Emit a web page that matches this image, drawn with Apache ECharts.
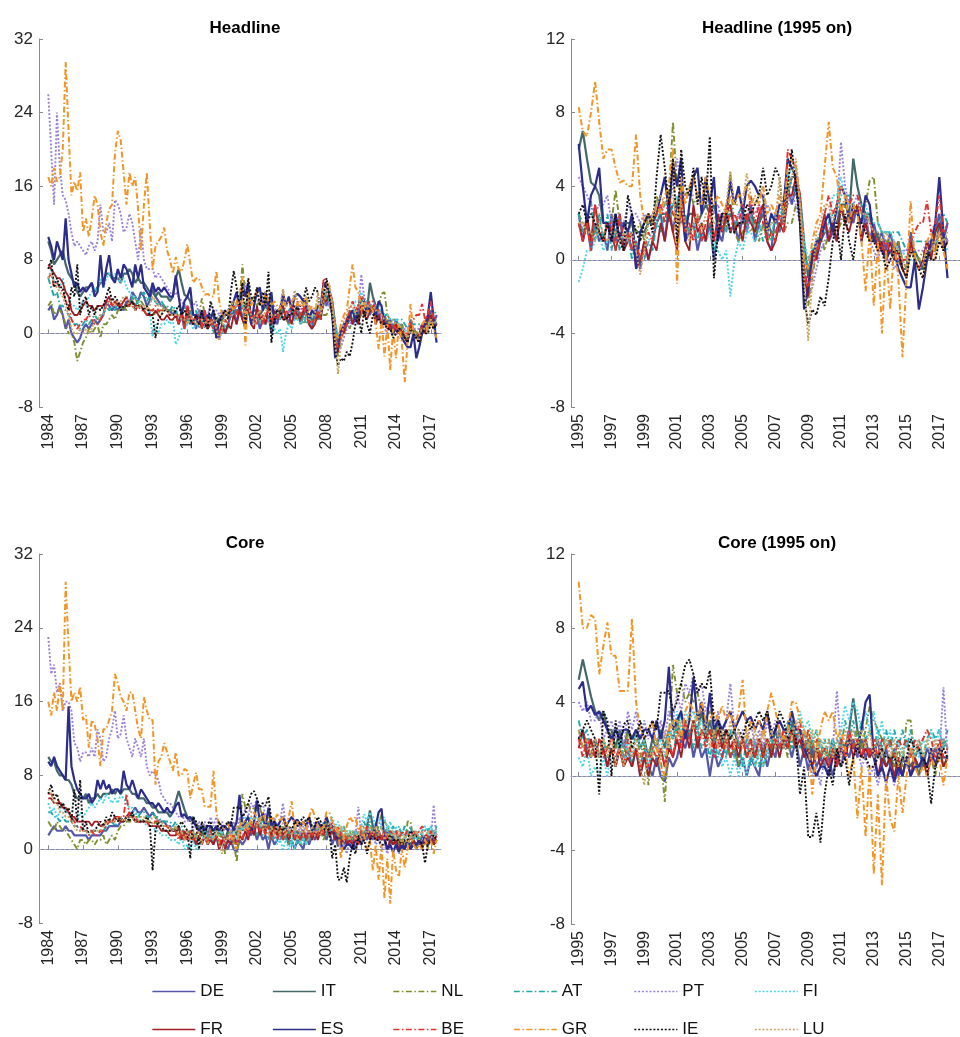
<!DOCTYPE html>
<html><head><meta charset="utf-8">
<script src="https://cdn.jsdelivr.net/npm/echarts@6/dist/echarts.min.js"></script>
<style>html,body{margin:0;padding:0;background:#fff}#c{width:960px;height:1037px}</style>
</head><body><div id="c"></div>
<script>
// ---- data: quarterly, 1984Q1 .. 2017Q3 (x = 1984.00, 1984.25, ...) ----
const countries = ['DE','IT','NL','AT','PT','FI','FR','ES','BE','GR','IE','LU'];
const legendRow1 = ['DE','IT','NL','AT','PT','FI'];
const legendRow2 = ['FR','ES','BE','GR','IE','LU'];
const firstYear = 1984;
const leftTicks = [1984,1987,1990,1993,1996,1999,2002,2005,2008,2011,2014,2017];
const rightTicks = [1995,1997,1999,2001,2003,2005,2007,2009,2011,2013,2015,2017];
const titles = ['Headline','Headline (1995 on)','Core','Core (1995 on)'];

const headlineDE = [2.5,3,1.5,2, 3,2,0.5,1.5, 0,-0.5,-1,-0.5, 0.5,1,0.5,1, 1.5,1,1.5,2, 3.5,3,2.5,3, 2.5,3,2.5,3.5, 3,4.5,4,3.5, 4.5,4,3,3.5, 5,4,3.5,3, 3,2.5,2.5,2,
 2.5,1,2,0.5, 2,1,1.5,0.5, 2.5,1,2.5,0.5, 1.5,0.5,1,-0.5, 1,0,1,2, 2.5,1,3,1.5, 3,4,1,1.5, 2,0.5,1.5,1, 2,0,1.5,1, 2.5,1.5,2,1, 2.5,1.5,3,1,
 2,3,1,0.5, 2.5,1.5,3,4, 3,4,3,-1, -1.5,0.5,0,1, 2,1,1.5,1, 3,2,2.5,2, 3,1,2.5,1, 2,1,1.5,0.5, 1.5,0.5,1,-0.5, -0.5,1.5,0,-0.5, -0.5,1,0.5,1.5, 2.5,1,2];
const headlineIT = [10,9,7.5,8, 8.5,9,7.5,6.5, 6,5.5,4.5,4, 4.5,5,5,5.5, 4.5,5,5.5,5.5, 6.5,6.5,6,6, 6,5.5,6.5,6.5, 7,6.5,5.5,6, 5.5,5.5,5,4.5, 4.5,4,4.5,4, 4,4,3.5,4,
 6,7,5.5,4.2, 4,3.5,2,2, 1.5,1.5,2,2, 2,2,1.5,1.5, 1.5,2,2,2, 2.5,2.5,2.5,3, 3,2.5,2,2.5, 2.5,2,2.5,3, 2.5,3,2,2.5, 2,2.5,2,2, 2,2,2.5,2,
 2,2.5,2,1.5, 1.5,2,2,3.5, 4.5,4.5,3.5,1, -1,0.5,0.5,1, 1.5,1.5,2,2, 3,3,2.5,5.5, 4,3,2.5,2.5, 1,1.5,0.5,0.5, 0.5,0,0,-0.5, -0.5,0.5,0.5,0, -0.5,0,0.5,0.5, 2,1.5,1];
const headlineNL = [3,3.5,2,2.5, 2.5,2,1,0, 0,-1,-3,-2, -1,-0.5,0.5,0, 0.5,1,-0.5,1, 1,1.5,2,1.5, 2.5,2.5,3,2.5, 3.5,3.5,4,3, 3.5,3,3,2.5, 2.5,2,2.5,2, 3,2.5,2.5,2.5,
 2.5,2,1.5,1, 1.5,2.5,2,2, 2,3.8,2,2, 1.5,2,1.5,2, 1,2.5,2,3.5, 2.5,3,3.5,7.5, 4,4,3.5,4, 3,3.5,3.5,3.5, 2.5,2.5,2,2.5, 1.5,4.8,1.5,1, 1.5,2,1.5,2,
 1,2,1,1.5, 1.5,2,1.5,2, 2,3,3,0, -2.5,-1,0.5,1.5, 0.5,1.5,2,1.5, 2,3,2.5,2.5, 3,2.5,3,4.3, 4.5,2,1.5,1, 1,0.5,1,0, -0.5,1,0.5,0, 0.5,0,0.5,0.5, 1.5,1,1];
const headlineAT = [6,5,4,4.5, 3,3,2.5,2, 1.5,1,1,0.5, 1,1.5,1,1.5, 2,1.5,2,2, 3,2.5,3,2.5, 3.5,3,3.5,3, 3,4,3,3.5, 4,4.5,3.5,4, 3.5,3.5,3,3.5, 3,3,2.5,3,
 2.5,1.5,2,3.2, 1,2.5,1,2.5, 0.5,2,0.5,1.5, 1.5,0,1,0, 0,1,0.5,2, 1.5,2.5,2,3, 3.5,2,2.5,1.5, 2,1,2,1, 2,0.5,1.5,2.5, 1.5,3,1.5,2.5, 3,1.5,2.5,1.5,
 2,1,1.5,1, 2.5,1.5,3,4.5, 4,3.5,3,0.5, -0.5,0.5,1,1.5, 2,2,2.5,2.5, 3.5,3.5,3.5,3, 2.5,2,2.5,2.5, 2,2,1.5,1.5, 1.5,1.5,1.5,1, 0.5,1,1,1, 1,1,1,1.5, 2,2.5,2];
const headlinePT = [26,20,14,24, 18,15,14.5,13, 11,9.5,10,9.5, 9,8.5,9.5,10, 9,10,14,11, 11,12,10,14.5, 14,13,11,11.5, 13,12,10,8, 11.5,8,7,7, 7,6,6.5,6, 5.5,5,4.5,4,
 4.5,4,3.5,3, 2.5,3,3,3.5, 2,2.5,2,2, 3,2.5,2.5,2, 2.5,2,2.5,3, 2.5,3,3,4, 5.5,4,3.5,3.5, 3.5,3.5,3.5,3, 3.5,2.5,3,2, 2.5,3,2,2.5, 2,1.5,2.5,2.5,
 3,2.5,3,2.5, 2.5,3,2,3, 3.5,3,2,-0.5, -2,-1.5,-0.5,0.5, 1,1.5,2,2.5, 6.4,4,3,3, 3.5,2.5,2.5,1, 0.5,0,1,0, 0,-0.5,0,0.5, 0.5,1,0.5,0.5, 0.5,1,1,1, 1.5,1.5,1];
const headlineFI = [6,7,5.5,5, 5,6,4.5,4, 3,3,2.5,3, 3.5,3,4,4.5, 5,4.5,6,5, 6,6.5,6,6.5, 6,5.5,6,5, 4.5,4,4,3.5, 3,2.5,2,2.5, -0.4,1,0,1, 1,1.5,1,1.5,
 -1.2,-0.5,0.5,0.5, 1,1.5,0.5,1, 1,1.5,1,1.5, 1.5,1.5,1,0.5, 0.5,1,1.5,2, 3,3,3,3, 3.5,3,2,2, 2,1.5,1.5,1, 1.5,1,0.5,0, 0.5,-2,0,1, 0.5,1.5,1.5,1,
 1.5,2,1.5,2, 2,2.5,3,4.5, 5,5,3,1, 0,0.5,1,1.5, 1.5,2,3.5,3.5, 4.5,3.5,3,3, 2.5,3,3,2, 2,2,1.5,1.5, 1.5,1,0.5,0.5, 0,0,0,-0.5, 0,0.5,0.5,1, 1,1,0.5];
const headlineFR = [7.5,7,6.5,6, 6,5.5,4.5,4, 2.5,2,2,2.5, 3,3.5,3,3, 2.5,3,3,3, 3.5,4,3,3.5, 3,3,3.5,4, 3,3.5,3,3, 3,2.5,2,2, 2,2.5,2,1.5, 1.5,2,1.5,1.5,
 2,1,2.5,1, 3,1.5,1,2, 1.5,0.5,1.5,0.5, 1,1.5,-0.5,0, 1,0,1,0.5, 2,1,2.5,1.5, 0.5,3,1,0.5, 3,1.5,2,1, 3,1,2.5,1.5, 2.5,3,1.5,2, 1,2.5,2,1.5,
 2.5,3,1,0.5, 1,2,1.5,3.5, 3.5,4.5,2,-1, -2,0.5,0,1.5, 2.5,1,2,1, 3,2,1.5,2.5, 3,1,2,1, 1.5,0.5,1,0, 1,0,0.5,-0.5, -1,1,0,-0.5, 0,1,0,1.5, 2,0.5,1];
const headlineES = [10.5,9.5,8,10, 9,8,12.5,8, 6.5,5,5.5,4.5, 5,4.5,5,5.5, 4,4.5,8.5,5, 7,8.5,6,5.5, 7,6,7.5,7, 6,5,7.5,6, 7.5,5,4.5,4, 5.5,4.5,5,4.5, 5,4.5,4,4,
 6.3,4,2,3.5, 4,5,2,2, 1,2.5,1,2, 1.5,2.5,-0.5,1.5, 2,2.5,2,2.5, 3.5,4.5,2.5,5.3, 4,5.5,1,3, 4.5,5,2.5,4.5, 3,4.5,1,2.5, 2.5,4.3,3,4, 2.5,4,4.3,4,
 3.5,3.5,1.5,2.5, 2,3,3,5.5, 5,4.5,2,-2.7, -1.5,0,1,1, 2,2.5,1.5,3, 4,3.5,2,3, 2.5,2,3.5,3, 1,1,0.5,0, 0.5,0.5,-0.5,-1, -1.5,-1.5,0,-2.7, -1.5,0,1,2, 4.5,1.5,-1];
const headlineBE = [6,6.5,5,5.5, 5,4.5,3.5,3, 1.5,1,0.5,1, 1.5,1.5,2,1.5, 1,1,1.5,2, 3,3.5,3,3.5, 3.5,3,3.5,3, 3,3,2.5,3, 2.5,2.5,2,2.5, 2.5,3,2.5,2.5, 2.5,2.5,2,2,
 2,1,2,0.5, 3,1.5,1,2, 2,0.5,2.5,1, 1.5,0.5,1,0, 0.5,1.5,1,2.5, 3,2,3.5,2.5, 2,3.5,1.5,2, 1,2.5,1,2, 2.5,1,2,1.5, 3,1.5,2.5,2, 3,2,3.5,2,
 3,2,1,1.5, 1,2.5,1.5,6, 5.5,5,3.5,-0.5, -1.5,-0.5,0.5,1, 2.5,3.5,2.5,3, 4,3.5,3,3.5, 3.5,2.5,2.5,2, 1.5,1,0.5,1, 0.5,0.5,0,0, 0,1,1.5,2, 2,3.2,1.5,2, 3.5,1.5,2];
const headlineGR = [17,16,18,16.5, 17,20,29.5,22, 15,16.5,15.5,17.5, 11,12.5,10.5,12.5, 15,14,11,9.5, 12,13.5,14,19.5, 22,21,17.5,14, 17.5,16,17,13.5, 9,14,17.5,12, 7,9.5,10,10.5, 11.5,9,8,6.5,
 8.3,7,6.7,8, 9.7,7.5,5.5,6, 6,5,4.2,4.3, 4,4,6.8,3.5, 2,2.5,2,3, 2.5,3.5,4,6.1, -1.3,4.5,3,4, 4.5,3.5,3,4.5, 3.5,3,3.5,3, 2.5,3.5,3,3.5, 3.5,4,3,3.5,
 3,4,2.5,3, 2.5,3.5,2.5,5, 5.5,5,3,0, -0.5,1,2,2.5, 5,7.5,5,4.5, 2.5,3.5,2,3, 2.5,1,-1.7,1.5, -2.5,1,-4,0.5, -2.7,1,-1,-5.3, -1,3.2,0,-0.5, -1,1,1.5,0, 1.5,0.5,-0.5];
const headlineIE = [7,8,5,6, 5,5,3.5,2.5, 5,4,7.5,2, 3.5,4,2,3, 2,3,2.5,3, 4,5,3.5,4, 3.5,2.5,3,3, 3,3.5,2.5,3, 3,2.5,3,2, 2,-0.5,1.5,2, 2.5,2.5,2,2,
 2.5,3,2,2.5, 2,1.5,1,2, 1,2.5,1,0.5, 3.5,2.5,1.5,1, 2,2.5,1.5,4.5, 6.8,5,3,5.5, 1,6,4,3.5, 5,3,4.5,3, 6.7,-1,1.5,2.5, 2.5,1.5,1.5,2, 2,3,2.5,3,
 3.5,5,3.5,4, 5,4.5,2,4, 6,4,2,-2, -3.5,-2.7,-3,-2, -2.5,-1,1,2, 0,2.5,1,0, 2,2,1.5,1, 1,0.5,0.5,-0.5, 0,0.5,0.5,-0.5, -1,0.5,0,-0.5, -1,0.5,0,0, 1,0.5,1];
const headlineLU = [6,6.5,5.5,5, 4.5,4,3,2, 0.5,0,0,0.5, 0,0.5,0,0.5, 1.5,1.5,2,2, 3,3.5,3.5,3, 3.5,3.5,4,4, 3,3,2.5,3, 3,3,2.5,3, 4,3.5,3,3, 2.5,2.5,2,2,
 2,2,1.5,1.5, 1,2,1.5,1, 1.5,1.5,1,1.5, 1,1.5,0.5,-0.8, 0.5,2,2.5,3, 3.5,3,3.5,3.5, 2,3,2,1, 2,2.5,1.5,2.5, 2.5,2,2,2, 3,4.8,3,3, 3,4.7,3.5,3,
 3.5,4,1.5,2, 2,4.5,2,3.5, 4.5,5.5,3,-1, -4.4,-1,1.5,2, 3,3,2,3, 4,3.5,3,3, 3,2.5,2.5,2, 1.5,1.5,1,1.5, 1,1,0.5,0, -0.5,0.5,0,0, 0,0.5,0.5,1, 1.5,1,1.5];

const coreDE = [1.5,2,2.5,2, 2,2,2.5,2, 2,1.5,1.5,1.5, 1.5,1.5,1,1.5, 1.5,1.5,1.5,2, 2,2.5,2.5,2.5, 2.5,3,3,3.5, 3.5,4,4.5,4, 4,4.5,4,3.5, 4,3.5,3,3, 3,2.5,2.5,2,
 2,2.5,1.5,1, 2,1,1.5,0.5, 1.5,0.5,1.5,0.5, 1.5,0.5,1.5,0, 1,0.5,0,1, 0,-0.3,1,0.5, 1,2,1.5,2.5, 1,2,1,1.5, 0,1.5,0.5,1, 2,1,1.5,0.5, 1,0,1,0.5,
 0,1.5,0.5,1.5, 1,2.5,1.5,2, 1,2,0.5,1.5, 0.3,1.5,0.5,1, 0.5,1,0,1, 0.5,1.5,1,2, 1,2,1,1.5, 1,2,0.5,1.5, 0.5,1.5,0,1, 0.5,1.5,1,1.5, 0.5,1.5,1,1.5, 1,2,1.5];
const coreIT = [10,9.5,9.5,8.5, 8,8,7.5,7.5, 7,6,5.5,5.5, 5.5,6,5,5.5, 5.5,6,5.5,6, 6,6,6.5,6, 6.5,6,6.5,6.5, 6.5,6,6,5.5, 5.5,5.5,5,5, 4.5,4.5,4,4, 4,4,3.5,4,
 5.2,6.3,5.3,4.3, 3.5,3,3.5,2.5, 2.5,1.5,2.5,1.5, 2.5,2,2.5,1.5, 2,1,2,1.5, 2.5,1.5,2.5,2, 3,2,3,2, 3,2.5,3.5,2, 3,2,3,2, 2.5,2,2.5,1.5, 2,1.5,2,1,
 2,1.5,2,1.5, 2.5,1.5,2,1.5, 3,2,2.5,1, 2,1,1.5,1, 1.5,1,2,1, 2,1.5,2.5,4.2, 2.5,1.5,2,1, 1.5,1,1.5,0.5, 1,0.5,1,0, 1,0.5,1,0, 1,0.5,1,0.5, 1.5,0.5,1];
const coreNL = [3,2.5,2,3, 2.5,2,2,1.5, 1,0.5,0,1, 1,0.5,1,1, 0.5,1,1,1.5, 0.5,1,1.5,1, 2,2.5,2.5,3, 3,3,3.5,3.5, 3.5,3,3,3, 2.5,3,2.5,2.5, 2.5,2.5,2,2,
 2.5,1.5,2,1, 2,1,2,1.5, 2.5,1.5,2,1, 2.5,1.5,2.5,1, 2,-0.5,1.5,2, 1,-1.4,2,6, 4.5,5,4,4.5, 4,4.5,3.5,3, 3.5,2,3,1.5, 2,1,1.5,0.5, 2,1,1.5,0.5,
 1.5,0.5,1.5,1, 2,1,2,1, 2,1.5,2.5,1.5, 2.5,1.5,2.5,1, 2,1,1.5,1, 2,1,2.5,1.5, 2.5,1.5,2.5,3.8, 3,2.5,2,1.5, 2,0.5,1.5,0.5, 3,3,1,1.5, 1,0.5,1,0, 1.5,0.5,1];
const coreAT = [4,4,3.5,3.5, 3,3.5,3,3, 3,2.5,2.5,2, 2,2,1.5,2, 2,2,2,2, 2.5,2.5,3,2.5, 3,3.5,3,3.5, 4,3.5,4,3.5, 4,4,3.5,3.5, 4,3.5,3.5,3, 3,3,3,2.5,
 3,2,2.5,1.5, 2,1,2,1, 1.5,0.5,2,1, 1.5,0.5,1.5,0.5, 1.5,0.5,1,0.5, 1.5,0.5,2,1, 2.5,3.5,2,2.5, 1.5,2.5,1.5,2, 1,2,1,2, 1,2.5,1,2, 0.5,2,0.5,2,
 0.5,1.5,1,2, 1.5,2.5,1.5,3, 1.5,2.5,1.5,2.5, 1,2,1,2, 0.5,2,1,2, 1.5,3,2,3, 1.5,3,2,2.5, 1.5,2.5,1.5,2.5, 1.5,2.5,1.5,2.5, 1.5,2.5,1,2, 1,2,2.5,2, 2.5,1.5,2.5];
const corePT = [23,19,20,17, 18,15,16,16, 15,11.5,11,9.5, 10.5,10.5,10,11, 10,13,12,9.5, 10,12,13,15, 12,12.5,14.5,12, 11,10,12,11, 10,12,9,8, 8.5,8,7.5,6, 5.5,5,5,4.5,
 4,3.5,4,3, 3,3.5,2,2.5, 3,2,3,1.5, 3.5,2.5,3.5,2, 3,2,3,1.5, 3,2,3.5,3, 4.5,3.5,5,4.5, 5.5,4.5,5,3.5, 4,2.5,3.5,2, 3,5,2.5,2, 2.5,1.5,3,1.5,
 2.5,1.5,3,2, 3,1.5,2.5,2, 2.5,1.5,2.5,1, 1.5,0,0.5,-0.5, 1,0,1.5,4.6, 1.5,1,2.5,1.5, 1.5,0.5,1,0, 0.5,-0.5,0.5,-0.5, 0.5,-0.5,0.5,0, 1,0,1,0.5, 1,0.5,1.5,0.5, 1,4.8,1];
const coreFI = [5,4,4.5,3.5, 4,5,4,4, 3.5,3,3,4, 3.5,4,4.5,5, 4.5,5,5.5,5, 6,5.5,5,5.5, 5,6,5.5,5, 4.5,4.5,4,3.5, 3,3,2.5,2.5, 2.5,2,2,1.5, 1.5,1.5,1,1,
 1,0.5,1.5,0, 0.5,0,1,0, 1.5,0.5,2,0.5, 2,1,2.5,1.5, 2,0.5,1.5,1, 2,1,2.5,2, 3.5,2.5,3.5,3, 3.5,2.5,3,2, 2.5,1,2,0.5, 1,0,1,0, 1,0,1.5,0.5,
 1.5,0.5,1.5,1, 2,1,2.5,1.5, 3.5,2.5,3.5,2.5, 3,2,2.5,1.5, 2,0.5,2,1, 2.5,3.8,3,4, 3.5,2.5,3.5,2.5, 3.5,2,3,1.5, 2.5,1,2,1, 2,1,2,1, 2,1.5,2.5,1.5, 2.5,1.5,2];
const coreFR = [5.5,5.5,5,5, 5,4.5,4.5,4, 3.5,3.5,3,3, 3,3,3,2.5, 3,3,2.5,2.5, 3,3,3,3.5, 3.5,3,3,3.5, 4,3.5,3,3, 3,3,3,2.5, 2.5,2.5,2.5,2, 2,2,1.5,1.5,
 1.5,2.5,1,2, 1,2,1.5,0.5, 1.5,0.5,1.5,0.5, 1,0.5,1.5,0, 1,0,1,0.5, 1.5,0.5,1.5,1, 2,1,2.5,1.5, 3,1.5,2.5,2, 2.5,1.5,2.5,1.5, 2.5,1.5,2,1, 2,1,1.5,1,
 2,1,2,1, 2,1,2,1.5, 2.5,1.5,2,1, 1.5,0.5,1.5,0.5, 1,0.5,1.5,0.5, 1.5,1,2,1, 2,1,1.5,1, 1.5,0,1,0.5, 1,0,1,0, 1,0,1,0.5, 1,0,1,0.5, 1.5,0.5,1];
const coreES = [9.5,9,10,9, 8.5,8,7.5,15.5, 9,7.5,6.5,6, 5.5,5.5,6,5, 5.5,7.5,6.5,7.5, 6.5,7,6,6.5, 6.5,6,8.5,7, 6.5,7.5,6.5,5.5, 6.5,6,5.5,5, 5,4.5,5,4.5, 4,4.5,4,4,
 4.7,5.1,3.5,3.8, 3.3,3.5,3,2.5, 2,2.5,2,2.5, 2.5,2,2.5,2, 2.5,2.5,2,3, 2,3,5.9,2.5, 3,3.5,2,3, 5.3,3,4,2.5, 4.5,2.5,3,2.5, 3,3.5,2.5,3, 3.5,3,3.2,2.5,
 3,2.5,3.5,2, 2.5,3,2.5,2.5, 3.5,2.5,2.5,1.5, 1,0.5,0,0.5, 0.5,0,1,1, 1.5,1,2,1.5, 1.5,2.5,4,4.4, 1,0,0.5,-0.3, 0.5,-0.3,0.5,0, 1,0,0.5,0.5, 1,0.5,1.5,0.5, 1.5,1,1];
const coreBE = [6,6,5.5,5.5, 5,5,4.5,4, 3.5,3,2.5,2.5, 2,2,2,2, 1.5,1.5,2,2, 2.5,3,3,3, 3.5,3.5,3.5,6, 3.5,3.5,3.5,3, 3,3,3,2.5, 3,3,3,2.5, 2.5,2.5,2,2,
 2,1,2,1.5, 1,2,1,1.5, 2,1,1.5,0.5, 2,1,1.5,0.5, 1.5,0.5,1.5,1, 1.5,0.5,2,1, 2.5,1.5,3,2, 3,2,2.5,1.5, 2.5,1,2,1, 2,1,2,1.5, 2,1,2,1,
 2,1,2,1.5, 2,1.5,2.5,1.5, 2.5,2,3,1.5, 2.5,1.5,2,1, 1.5,0.5,1.5,0.5, 2,1,2.5,1.5, 2,1,2,1, 2,1,2,1.5, 2,1,2,1.5, 2,1,2,1.5, 2,2.5,2,1, 2,1,1.5];
const coreGR = [16,14.5,17,15, 18,15,29,22, 16,17,16,17.6, 14,14.5,11,14, 13.5,12,9,13, 13,14,15,19, 18,16.5,16,15, 17,17,15,13, 12,16.5,15,14, 14,7,9.5,10, 11.5,10.5,9.5,8.5,
 10.5,8,8,8.7, 8.5,5.5,7,8.3, 6.5,6.5,4.6,4.6, 4.6,8.5,4,2.5, 2,2.5,3,1.5, 0.5,0,2.5,3, 3,2,3.5,4, 3.5,3,4,3, 3,3.5,3,3.8, 3,3.5,2.5,3.5, 5.2,2,3,2.5,
 3,2,3.5,4.5, 3.5,2.5,2,2.5, 4,4,3,2.5, 2,-1,1.5,2.5, 3.5,3,3.5,2, 2.5,1.5,0,1, -2.3,0.5,-3.3,0.5, -5.3,-1,-5.9,0, -2.3,-3,0,-2, 0,1.5,0.5,0, 0.5,0,1,0.5, 1,-0.5,1];
const coreIE = [6,7,5.5,6, 4.5,5,4,4.5, 3,6.5,3,7.5, 2,3,1.5,2, 2,2.5,3,2.5, 3.5,3,4,3.5, 3,3.5,3,3.5, 3,4,3,3, 3,3,3.5,3, -2.3,2,3,2.5, 2,2,2,2,
 2,2.5,3,2.5, 2,-1,3.5,3, 0,3,1.5,2.8, 3,1.5,2,3, 2,2.5,3,2.5, 4.5,4.5,4.6,3.5, 4,5,6,6.3, 5.5,4.5,5,4.7, 5.7,3,3,2, 2.5,2,2.5,2.5, 2,3,2.5,3,
 3.5,3,3.5,2.5, 2.5,3.5,3,2, 2.5,2,-1,0.5, -3.3,-3.3,-2,-3.6, -1,0.5,-0.5,1.5, 0.5,1,-0.5,1, 1.5,1,1,0.5, 0.5,1,1.5,1, 1,1,0.5,1, 1,2,1.5,1.5, 1,0.5,-1.5,0.5, 1,1.5,1];
const coreLU = [6.5,6,5,5, 4,4,3.5,3.5, 3,2.5,2,2, 2,2,1.5,2, 2,2,2,2.5, 3,3,3,3, 3.5,3.5,3,3.5, 3.5,3.5,3,3, 3.5,3.5,3,3, 3.5,3.5,3,3, 2.5,2.5,2.5,2,
 2.5,1.5,2,1, 2,1,2,1, 2,0.5,1.5,0.5, 1.5,1,2,0.5, -0.5,1.5,1,2, 1,2.5,1.5,3, 2,3,2.5,3.5, 2.5,3.5,2,3, 1.5,2.5,1.5,2.5, 1.5,3,1.5,2.5, 1.5,2.5,1,2.5,
 1.5,2.5,1.5,2.5, 1.5,2.5,1.5,2.5, 2,3,2,2.5, 1.5,2.5,1,2, 1,2,1,2, 1,2.5,1.5,2.5, 1.5,2.5,1.5,2.5, 1,2,1,2, 1,2,0.5,1.5, 0.5,1.5,1,2, 1,2,1,2, 1,2,1.5];

const headline = {DE:headlineDE, IT:headlineIT, NL:headlineNL, AT:headlineAT, PT:headlinePT, FI:headlineFI,
  FR:headlineFR, ES:headlineES, BE:headlineBE, GR:headlineGR, IE:headlineIE, LU:headlineLU};
const core = {DE:coreDE, IT:coreIT, NL:coreNL, AT:coreAT, PT:corePT, FI:coreFI,
  FR:coreFR, ES:coreES, BE:coreBE, GR:coreGR, IE:coreIE, LU:coreLU};

// ---- styles ----
const DASHDOT = [6,2.5,1.5,2.5];
const DOT = [2,1.8];
const styles = {
  DE:{color:'#5558a8', type:'solid', width:2.2},
  IT:{color:'#43686a', type:'solid', width:2.2},
  NL:{color:'#7f8e2e', type:DASHDOT, width:1.9},
  AT:{color:'#1fa9a9', type:DASHDOT, width:1.9},
  PT:{color:'#9a82d8', type:DOT, width:1.9},
  FI:{color:'#4dd5e5', type:DOT, width:1.9},
  FR:{color:'#a11f24', type:'solid', width:1.8},
  ES:{color:'#2c2c8c', type:'solid', width:2.2},
  BE:{color:'#e5302d', type:DASHDOT, width:1.9},
  GR:{color:'#f39526', type:DASHDOT, width:2},
  IE:{color:'#111111', type:DOT, width:1.9},
  LU:{color:'#c8a565', type:DOT, width:1.9}
};
const FONT = '"Liberation Sans", Arial, Helvetica, sans-serif';

const panels = [
  {data:headline, fromYear:1984, grid:{left:39, top:39, width:402, height:368}, xMin:1983.2, xMax:2017.88, yMin:-8, yMax:32, yInt:8, ticks:leftTicks},
  {data:headline, fromYear:1995, grid:{left:571, top:39, width:402, height:368}, xMin:1994.53, xMax:2018.26, yMin:-8, yMax:12, yInt:4, ticks:rightTicks},
  {data:core, fromYear:1984, grid:{left:39, top:554, width:402, height:369}, xMin:1983.2, xMax:2017.88, yMin:-8, yMax:32, yInt:8, ticks:leftTicks},
  {data:core, fromYear:1995, grid:{left:571, top:554, width:402, height:370}, xMin:1994.53, xMax:2018.26, yMin:-8, yMax:12, yInt:4, ticks:rightTicks}
];

const grids = [], xAxes = [], yAxes = [], series = [], titleComps = [];
panels.forEach((p, gi) => {
  grids.push(Object.assign({containLabel:false}, p.grid));
  titleComps.push({text: titles[gi], left: p.grid.left + 201, top: p.grid.top - 24, textAlign:'center',
    textStyle:{fontFamily:FONT, fontSize:17, fontWeight:'bold', color:'#000'}});
  xAxes.push({type:'value', gridIndex:gi, min:p.xMin, max:p.xMax,
    axisLine:{show:true, lineStyle:{color:'#8a8a8a', width:1}},
    axisTick:{show:true, inside:true, length:4, customValues:p.ticks, lineStyle:{color:'#8a8a8a'}},
    axisLabel:{show:true, customValues:p.ticks, rotate:90, margin:7, fontFamily:FONT, fontSize:16, color:'#262626',
      formatter:v => String(Math.round(v))},
    splitLine:{show:false}});
  yAxes.push({type:'value', gridIndex:gi, min:p.yMin, max:p.yMax, interval:p.yInt,
    axisLine:{show:true, lineStyle:{color:'#8a8a8a', width:1}},
    axisTick:{show:true, inside:true, length:4, lineStyle:{color:'#8a8a8a'}},
    axisLabel:{margin:6, fontFamily:FONT, fontSize:17, color:'#262626'},
    splitLine:{show:false}});
  const offset = (p.fromYear - firstYear) * 4;
  countries.forEach((c, ci) => {
    const vals = p.data[c];
    const pts = [];
    for (let i = offset; i < vals.length; i++) pts.push([firstYear + i * 0.25, vals[i]]);
    const s = styles[c];
    const ser = {name:c, type:'line', xAxisIndex:gi, yAxisIndex:gi, data:pts, symbol:'none', showSymbol:false,
      lineStyle:{color:s.color, type:s.type, width:s.width}, itemStyle:{color:s.color}, z:2+ci, silent:true};
    if (ci === 0) {
      ser.markLine = {silent:true, symbol:['none','none'], label:{show:false}, animation:false,
        lineStyle:{color:'#9fa6f2', type:[2,3], width:1}, data:[{yAxis:0}]};
    }
    series.push(ser);
  });
});

// one legend component per entry so the columns are evenly spaced
const legends = [];
[legendRow1, legendRow2].forEach((row, ri) => {
  row.forEach((name, k) => {
    legends.push({data:[name], left:151.7 + k * 120.5, top: ri === 0 ? 983 : 1021, padding:0,
      itemWidth:43, itemHeight:14, itemGap:0, selectedMode:false,
      itemStyle:{opacity:0}, lineStyle:{width:1.3},
      textStyle:{fontFamily:FONT, fontSize:17, color:'#111'}});
  });
});

const chart = echarts.init(document.getElementById('c'), null, {renderer:'canvas'});
chart.setOption({
  animation:false,
  backgroundColor:'#fff',
  title:titleComps,
  grid:grids, xAxis:xAxes, yAxis:yAxes, series:series,
  legend:legends
});
</script></body></html>
